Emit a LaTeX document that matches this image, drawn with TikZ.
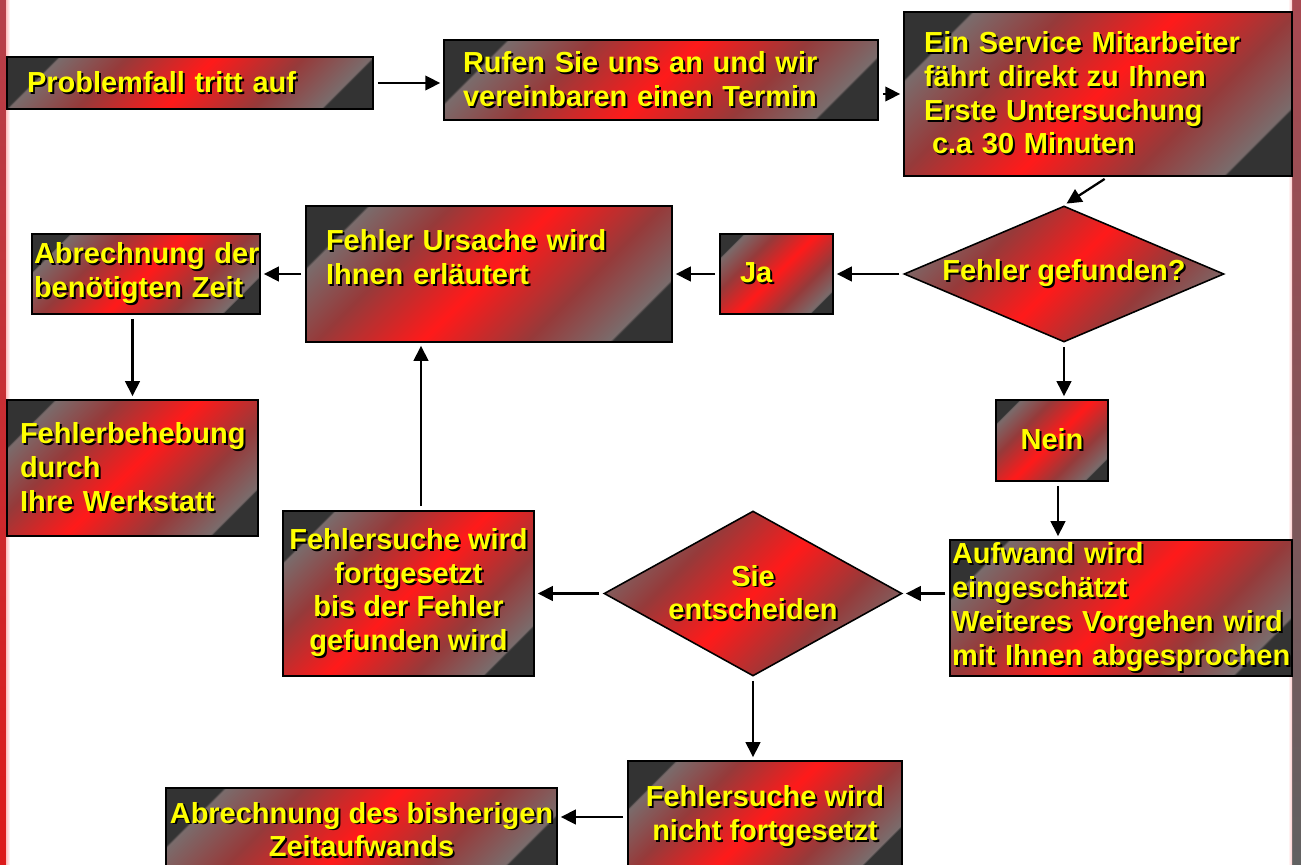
\documentclass[tikz,border=0pt]{standalone}
\usepackage{fontspec}
\setmainfont{Liberation Sans}
\usepackage{xcolor}
\usetikzlibrary{arrows.meta,shapes.geometric,calc}

\definecolor{slate}{HTML}{333333}
\definecolor{ashgray}{HTML}{7A6C6C}
\definecolor{deepred}{HTML}{963A3A}
\definecolor{alarmred}{HTML}{FF1A1A}
\definecolor{signyellow}{HTML}{FFFF00}
\definecolor{leftstrip}{HTML}{B5404A}
\definecolor{rightstrip}{HTML}{A84850}

% diagonal dark-red-dark fill of the boxes
\pgfdeclareverticalshading{alarm}{100bp}{color(0bp)=(slate); color(36.5bp)=(slate);
  color(36.7bp)=(ashgray); color(42.5bp)=(deepred); color(50bp)=(alarmred);
  color(57.5bp)=(deepred); color(63.3bp)=(ashgray); color(63.5bp)=(slate); color(100bp)=(slate)}

% yellow text with a dark drop shadow
\newcommand{\shd}[1]{\mbox{\rlap{\kern1.1pt\raisebox{-1.1pt}{\color{black}#1}}#1}}

\tikzset{
  flowbox/.style={draw=black, line width=0.9pt, inner sep=0pt, text=signyellow,
    font=\bfseries\fontsize{16.5}{19.2}\selectfont,
    path picture={\shade[shading=alarm, shading angle=45]
      let \p1=(path picture bounding box.north east),
          \p2=(path picture bounding box.south west),
          \n1={(\x1-\x2+\y1-\y2)/2} in
      ([shift={(-\n1,-\n1)}]path picture bounding box.center) rectangle
      ([shift={(\n1,\n1)}]path picture bounding box.center);}},
  askbox/.style={flowbox, diamond},
  flowarrow/.style={-{Triangle[length=0.3cm,width=0.29cm]}, line width=1.3pt,
    shorten <=0.08cm, shorten >=0.06cm}
}

\begin{document}
\begin{tikzpicture}[x=0.02cm, y=-0.02cm]
\useasboundingbox (0,0) rectangle (1301,865);
\clip (0,0) rectangle (1301,865);
\fill[white] (0,0) rectangle (1301,865);

% slide edges
\shade[top color=leftstrip, bottom color=red!85!black!90] (0,0) rectangle (6,865);
\shade[left color=red!25, right color=white] (6,0) rectangle (10,865);
\shade[top color=rightstrip, bottom color=black!62] (1292,0) rectangle (1301,865);
\shade[left color=white, right color=red!20] (1288,0) rectangle (1292,865);

% top row
\node[flowbox, minimum width=7.32cm, minimum height=1.04cm, text width=6.52cm, align=left]
  (prob) at (190,83) {\shd{Problemfall tritt auf}};
\node[flowbox, minimum width=8.68cm, minimum height=1.6cm, text width=7.92cm, align=left]
  (call) at (661,80) {\shd{Rufen Sie uns an und wir}\\\shd{vereinbaren einen Termin}};
\node[flowbox, minimum width=7.76cm, minimum height=3.28cm, text width=6.96cm, align=left]
  (visit) at (1098,94) {\shd{Ein Service Mitarbeiter}\\\shd{fährt direkt zu Ihnen}\\
  \shd{Erste Untersuchung}\\\hspace*{0.16cm}\shd{c.a 30 Minuten}};

% second row
\node[askbox, minimum width=6.4cm, minimum height=2.72cm, shape aspect=2.35]
  (found) at (1064,274) {\shd{Fehler gefunden?}};
\node[flowbox, minimum width=2.26cm, minimum height=1.6cm, text width=1.46cm, align=left]
  (yes) at (776.5,274) {\shd{Ja}};
\node[flowbox, minimum width=7.32cm, minimum height=2.72cm, text width=6.52cm, align=left]
  (cause) at (489,274) {\shd{Fehler Ursache wird}\\\shd{Ihnen erläutert}\\\mbox{}};
\node[flowbox, minimum width=4.56cm, minimum height=1.6cm, text width=4.48cm, align=left]
  (bill1) at (146,274) {\shd{Abrechnung der}\\\shd{benötigten Zeit}};

% third row
\node[flowbox, minimum width=5.02cm, minimum height=2.72cm, text width=4.5cm, align=left]
  (fix) at (132.5,468) {\shd{Fehlerbehebung}\\\shd{durch}\\\shd{Ihre Werkstatt}};
\node[flowbox, minimum width=2.24cm, minimum height=1.62cm, align=center]
  (no) at (1052,440.5) {\shd{Nein}};

% fourth row
\node[flowbox, minimum width=6.84cm, minimum height=2.72cm, text width=6.76cm, align=left]
  (effort) at (1121,608) {\shd{Aufwand wird}\\\shd{eingeschätzt}\\
  \shd{Weiteres Vorgehen wird}\\\shd{mit Ihnen abgesprochen}};
\node[askbox, minimum width=5.96cm, minimum height=3.3cm, shape aspect=1.8, align=center]
  (decide) at (753,593.5) {\shd{Sie}\\\shd{entscheiden}};
\node[flowbox, minimum width=5.02cm, minimum height=3.3cm, align=center]
  (cont) at (408.5,593.5) {\shd{Fehlersuche wird}\\\shd{fortgesetzt}\\
  \shd{bis der Fehler}\\\shd{gefunden wird}};

% bottom row
\node[flowbox, minimum width=5.48cm, minimum height=2.24cm, align=center]
  (stop) at (765,817) {\shd{Fehlersuche wird}\\\shd{nicht fortgesetzt}};
\node[flowbox, minimum width=7.82cm, minimum height=1.7cm, align=center]
  (bill2) at (361.5,830.5) {\shd{Abrechnung des bisherigen}\\\shd{Zeitaufwands}};

\coordinate (visitexit) at ([xshift=0.2cm]visit.south);
\coordinate (noexit) at ([xshift=0.12cm]no.south);
\coordinate (contexit) at ([xshift=0.25cm]cont.north);

% connectors
\draw[flowarrow] (prob.east) -- (prob.east -| call.west);
\draw[flowarrow] (call.east |- visit.west) -- (visit.west);
\draw[flowarrow] (visitexit) -- (found.north);
\draw[flowarrow] (found.west) -- (yes.east);
\draw[flowarrow] (yes.west) -- (cause.east);
\draw[flowarrow] (cause.west) -- (bill1.east);
\draw[flowarrow] (bill1.south -| fix.north) -- (fix.north);
\draw[flowarrow] (found.south) -- (found.south |- no.north);
\draw[flowarrow] (noexit) -- (noexit |- effort.north);
\draw[flowarrow] (effort.west |- decide.east) -- (decide.east);
\draw[flowarrow] (decide.west) -- (cont.east);
\draw[flowarrow] (contexit) -- (contexit |- cause.south);
\draw[flowarrow] (decide.south) -- (decide.south |- stop.north);
\draw[flowarrow] (stop.west) -- (stop.west -| bill2.east);
\end{tikzpicture}
\end{document}
